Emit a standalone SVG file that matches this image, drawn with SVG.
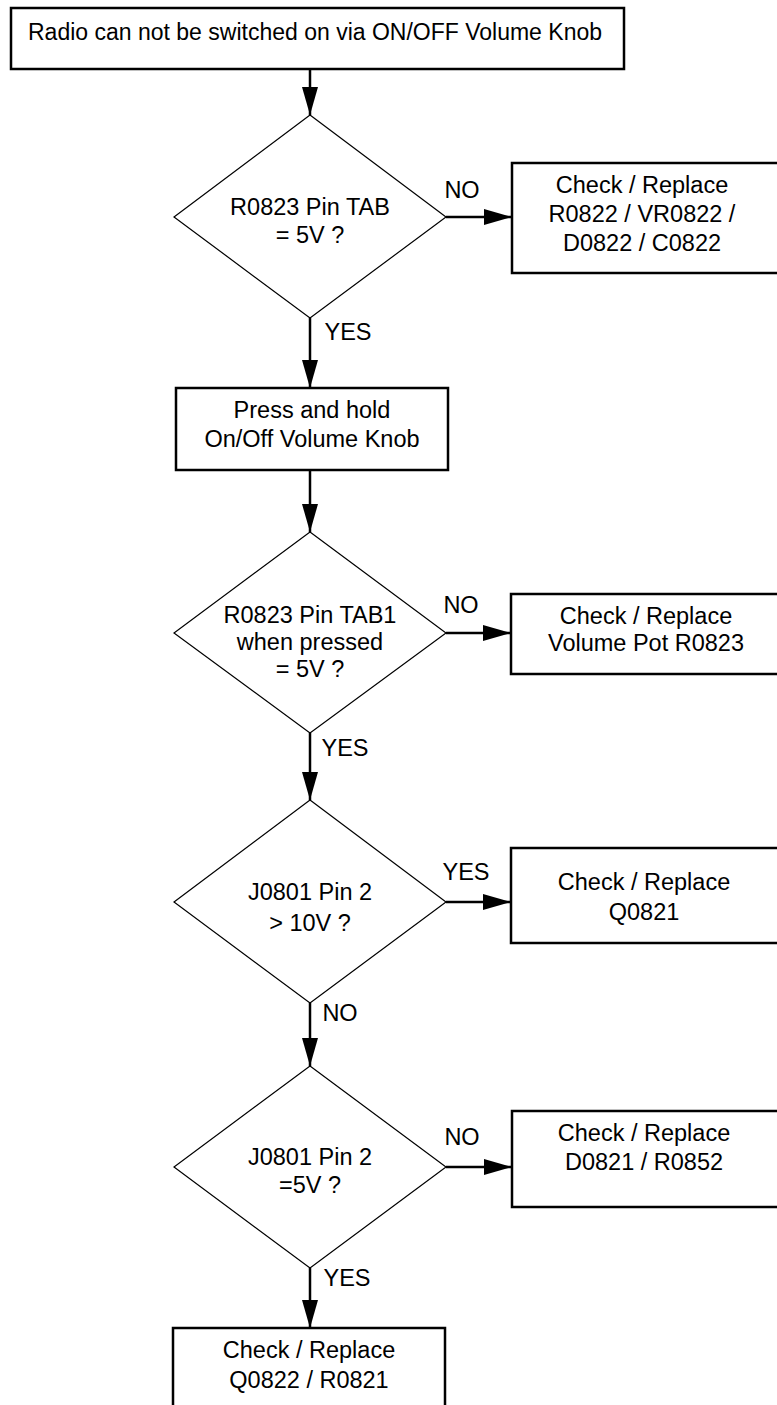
<svg xmlns="http://www.w3.org/2000/svg" width="777" height="1405" viewBox="0 0 777 1405">
<style>
.box{fill:#fff;stroke:#000;stroke-width:2.5}
.dia{fill:#fff;stroke:#000;stroke-width:1.2}
.t{font-family:"Liberation Sans",Arial,sans-serif;font-size:23.5px;fill:#000;text-anchor:middle}
.c{stroke:#000;stroke-width:2.5;fill:none;marker-end:url(#ah)}
</style>
<defs>
<marker id="ah" markerWidth="28" markerHeight="16" refX="28" refY="8" orient="auto" markerUnits="userSpaceOnUse">
<path d="M0,0 L28,8 L0,16 Z" fill="#000"/>
</marker>
</defs>
<rect width="777" height="1405" fill="#fff"/>
<g id="connectors">
<line class="c" x1="310" y1="69" x2="310" y2="115"/>
<line class="c" x1="446" y1="217" x2="512" y2="217"/>
<line class="c" x1="310" y1="318" x2="310" y2="388"/>
<line class="c" x1="310" y1="470" x2="310" y2="532"/>
<line class="c" x1="446" y1="633" x2="511" y2="633"/>
<line class="c" x1="310" y1="733" x2="310" y2="800"/>
<line class="c" x1="446" y1="902" x2="511" y2="902"/>
<line class="c" x1="310" y1="1003" x2="310" y2="1066"/>
<line class="c" x1="446" y1="1167" x2="512" y2="1167"/>
<line class="c" x1="310" y1="1268" x2="310" y2="1328"/>
<text class="t" x="462" y="198">NO</text>
<text class="t" x="348" y="340">YES</text>
<text class="t" x="461" y="613">NO</text>
<text class="t" x="345" y="756">YES</text>
<text class="t" x="466" y="880">YES</text>
<text class="t" x="340" y="1021">NO</text>
<text class="t" x="462" y="1145">NO</text>
<text class="t" x="347" y="1286">YES</text>
</g>
<g id="start">
<rect class="box" x="11" y="8" width="613" height="61"/>
<text class="t" x="315" y="40" style="font-size:23px">Radio can not be switched on via ON/OFF Volume Knob</text>
</g>
<g id="d1">
<polygon class="dia" points="310,115 446,217 310,318 174,217"/>
<text class="t" x="310" y="215">R0823 Pin TAB</text>
<text class="t" x="310" y="243">= 5V ?</text>
</g>
<g id="r1">
<rect class="box" x="512" y="163" width="270" height="110"/>
<text class="t" x="642" y="193">Check / Replace</text>
<text class="t" x="642" y="222">R0822 / VR0822 /</text>
<text class="t" x="642" y="251">D0822 / C0822</text>
</g>
<g id="b2">
<rect class="box" x="176" y="388" width="272" height="82"/>
<text class="t" x="312" y="418">Press and hold</text>
<text class="t" x="312" y="447">On/Off Volume Knob</text>
</g>
<g id="d2">
<polygon class="dia" points="310,532 446,633 310,733 174,633"/>
<text class="t" x="310" y="623">R0823 Pin TAB1</text>
<text class="t" x="310" y="650">when pressed</text>
<text class="t" x="310" y="677">= 5V ?</text>
</g>
<g id="r2">
<rect class="box" x="511" y="594" width="271" height="80"/>
<text class="t" x="646" y="624">Check / Replace</text>
<text class="t" x="646" y="651">Volume Pot R0823</text>
</g>
<g id="d3">
<polygon class="dia" points="310,800 446,902 310,1003 174,902"/>
<text class="t" x="310" y="900">J0801 Pin 2</text>
<text class="t" x="310" y="931">&gt; 10V ?</text>
</g>
<g id="r3">
<rect class="box" x="511" y="848" width="271" height="95"/>
<text class="t" x="644" y="890">Check / Replace</text>
<text class="t" x="644" y="920">Q0821</text>
</g>
<g id="d4">
<polygon class="dia" points="310,1066 446,1167 310,1268 174,1167"/>
<text class="t" x="310" y="1165">J0801 Pin 2</text>
<text class="t" x="310" y="1193">=5V ?</text>
</g>
<g id="r4">
<rect class="box" x="512" y="1111" width="270" height="96"/>
<text class="t" x="644" y="1141">Check / Replace</text>
<text class="t" x="644" y="1170">D0821 / R0852</text>
</g>
<g id="end">
<rect class="box" x="173" y="1328" width="272" height="90"/>
<text class="t" x="309" y="1358">Check / Replace</text>
<text class="t" x="309" y="1388">Q0822 / R0821</text>
</g>
</svg>
